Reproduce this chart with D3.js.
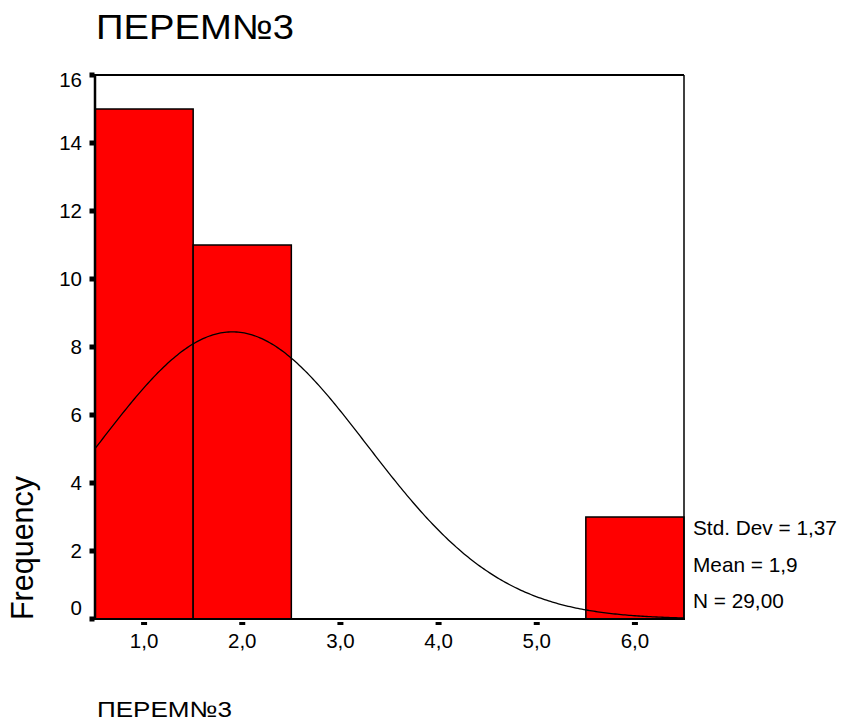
<!DOCTYPE html>
<html>
<head>
<meta charset="utf-8">
<script src="https://cdn.jsdelivr.net/npm/d3@7"></script>
<style>
  html, body { margin: 0; padding: 0; background: #fff; }
  svg { display: block; }
  text { font-family: "Liberation Sans", Arial, sans-serif; fill: #000; }
</style>
</head>
<body>
<svg id="chart" width="843" height="725"></svg>
<script>
// ---- data ----
const binCenters = [1, 2, 3, 4, 5, 6];
const frequencies = [15, 11, 0, 0, 0, 3];
const binWidth = 1;
const xTickValues = [1, 2, 3, 4, 5, 6];
const xTickLabels = ["1,0", "2,0", "3,0", "4,0", "5,0", "6,0"];
const yTickValues = [0, 2, 4, 6, 8, 10, 12, 14, 16];
const statsLabels = ["Std. Dev = 1,37", "Mean = 1,9", "N = 29,00"];
const stdDev = 1.37;
const mean = 1.9;
const nCount = 29;
const titleText = "ПЕРЕМ№3";
const xAxisTitle = "ПЕРЕМ№3";
const yAxisTitle = "Frequency";

// ---- layout ----
const svg = d3.select("#chart");
const pLeft = 95, pRight = 684, pTop = 75, pBottom = 619;

const x = d3.scaleLinear().domain([0.5, 6.5]).range([pLeft, pRight]);
const y = d3.scaleLinear().domain([0, 16]).range([pBottom, pTop]);

// bars
svg.append("g").selectAll("rect")
  .data(binCenters.map((c, i) => ({ c, f: frequencies[i] })).filter(d => d.f > 0))
  .join("rect")
  .attr("x", d => x(d.c - binWidth / 2))
  .attr("y", d => y(d.f))
  .attr("width", d => x(d.c + binWidth / 2) - x(d.c - binWidth / 2))
  .attr("height", d => y(0) - y(d.f))
  .attr("fill", "#ff0000")
  .attr("stroke", "#000")
  .attr("stroke-width", 1.5);

// normal curve
const pdf = v => nCount * binWidth * Math.exp(-0.5 * Math.pow((v - mean) / stdDev, 2)) / (stdDev * Math.sqrt(2 * Math.PI));
const curvePts = d3.range(0.5, 6.5001, 0.02).map(v => [v, pdf(v)]);
svg.append("path")
  .datum(curvePts)
  .attr("fill", "none")
  .attr("stroke", "#000")
  .attr("stroke-width", 1.3)
  .attr("d", d3.line().x(d => x(d[0])).y(d => y(d[1])));

// frame
svg.append("line").attr("x1", pLeft).attr("x2", pRight).attr("y1", pTop).attr("y2", pTop)
  .attr("stroke", "#000").attr("stroke-width", 2);
svg.append("line").attr("x1", pRight).attr("x2", pRight).attr("y1", pTop).attr("y2", pBottom)
  .attr("stroke", "#000").attr("stroke-width", 1.5);
svg.append("line").attr("x1", pLeft).attr("x2", pLeft).attr("y1", pTop - 1).attr("y2", pBottom + 1)
  .attr("stroke", "#000").attr("stroke-width", 2.5);
svg.append("line").attr("x1", pLeft - 2).attr("x2", pRight + 1).attr("y1", pBottom).attr("y2", pBottom)
  .attr("stroke", "#000").attr("stroke-width", 2);

// y ticks (small squares)
const yt = svg.append("g");
yt.selectAll("rect").data(yTickValues).join("rect")
  .attr("x", pLeft - 5.5).attr("y", d => y(d) - 2.5)
  .attr("width", 5).attr("height", 5).attr("fill", "#000");
yt.selectAll("text").data(yTickValues).join("text")
  .attr("x", 82)
  .attr("y", d => Math.min(Math.max(y(d), pTop + 5), pBottom - 11))
  .attr("dy", "0.35em")
  .attr("text-anchor", "end")
  .attr("font-size", 20.5)
  .text(d => d);

// x ticks
const xt = svg.append("g");
xt.selectAll("rect").data(xTickValues).join("rect")
  .attr("x", d => x(d) - 3).attr("y", pBottom + 3)
  .attr("width", 6).attr("height", 3).attr("fill", "#000");
xt.selectAll("text").data(xTickValues).join("text")
  .attr("x", d => x(d))
  .attr("y", 648)
  .attr("text-anchor", "middle")
  .attr("font-size", 20.5)
  .text((d, i) => xTickLabels[i]);

// stats
svg.append("g").selectAll("text").data(statsLabels).join("text")
  .attr("x", 693)
  .attr("y", (d, i) => [535, 572, 608][i])
  .attr("font-size", 20.8)
  .text(d => d);

// titles
svg.append("text")
  .attr("x", 96).attr("y", 39)
  .attr("font-size", 35)
  .attr("textLength", 198).attr("lengthAdjust", "spacingAndGlyphs")
  .text(titleText);

svg.append("text")
  .attr("x", 97).attr("y", 717)
  .attr("font-size", 22)
  .attr("textLength", 135).attr("lengthAdjust", "spacingAndGlyphs")
  .text(xAxisTitle);

svg.append("text")
  .attr("transform", "translate(33,548) rotate(-90)")
  .attr("text-anchor", "middle")
  .attr("font-size", 30.5)
  .text(yAxisTitle);
</script>
</body>
</html>
